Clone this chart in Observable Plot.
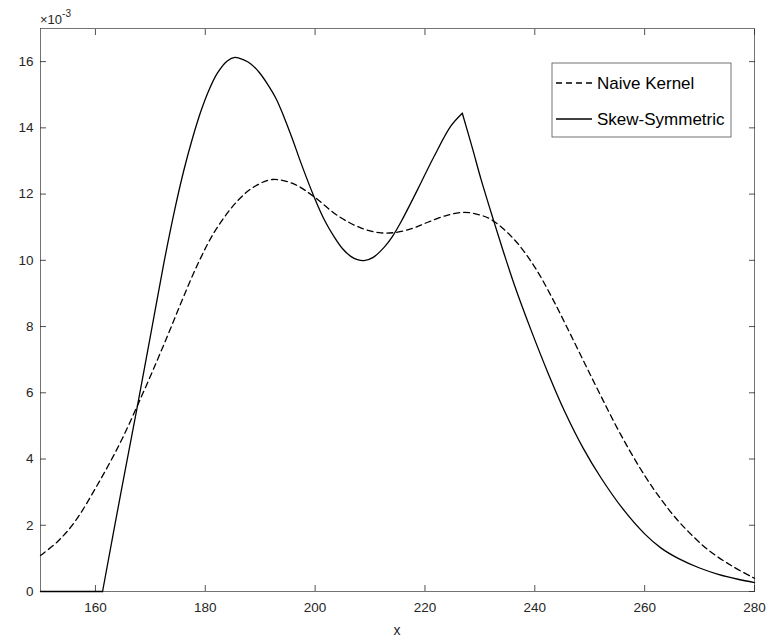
<!DOCTYPE html>
<html>
<head>
<meta charset="utf-8">
<script src="https://cdn.jsdelivr.net/npm/d3@7"></script>
<script src="https://cdn.jsdelivr.net/npm/@observablehq/plot@0.6"></script>
<style>
  html, body { margin: 0; padding: 0; background: #fff; }
  #chart { position: relative; width: 767px; height: 641px; }
</style>
</head>
<body>
<div id="chart"></div>
<script>
// ---- data (density ×10^-3) ----
const seriesNames = ["Naive Kernel", "Skew-Symmetric"];

const naiveX = [150, 153, 156.1, 160.3, 164.6, 168.2, 171.3, 173.7, 176.1, 178.9, 181.9, 185.9, 188.9, 192.2, 196.2, 199.8, 204.1, 208.3, 212, 215, 218, 220.5, 224, 227.2, 230.2, 232.35, 236.3, 239.9, 242.98, 246, 249.05, 252.1, 255.7, 260, 263, 265.5, 268, 271.6, 276, 280];
const naiveY = [1.09, 1.49, 2.07, 3.2, 4.52, 5.82, 7.0, 7.95, 8.92, 9.98, 10.92, 11.8, 12.22, 12.44, 12.3, 11.92, 11.35, 10.98, 10.83, 10.85, 10.98, 11.15, 11.36, 11.45, 11.36, 11.2, 10.62, 9.82, 8.92, 7.93, 6.9, 5.88, 4.72, 3.5, 2.78, 2.25, 1.8, 1.25, 0.76, 0.4];

const skewX = [150, 161.3, 164.6, 167.6, 170.05, 172.5, 174.6, 176.1, 177.7, 179.2, 180.7, 182.2, 184, 185.4, 187, 188.3, 189.8, 191.3, 192.9, 194.4, 195.9, 197.4, 199.8, 201.6, 203.5, 205, 206.5, 207.7, 208.9, 210.5, 212.6, 214, 215.6, 218.7, 221.7, 224.7, 226.8, 228.7, 230.2, 232.5, 234.4, 236.3, 239.3, 242.4, 245.4, 248.8, 252.1, 256, 260, 263, 266.1, 270, 273.4, 277, 280];
const skewY = [0, 0, 2.95, 5.56, 7.75, 9.95, 11.65, 12.72, 13.7, 14.5, 15.15, 15.65, 16.02, 16.13, 16.05, 15.93, 15.68, 15.33, 14.88, 14.3, 13.65, 12.95, 11.92, 11.25, 10.7, 10.35, 10.12, 10.02, 9.99, 10.08, 10.4, 10.7, 11.15, 12.15, 13.15, 14.05, 14.44, 13.35, 12.45, 11.2, 10.2, 9.25, 7.9, 6.6, 5.45, 4.33, 3.42, 2.5, 1.74, 1.31, 1.0, 0.71, 0.52, 0.37, 0.27];
// x positions where the skew-symmetric estimate has a corner
const skewCorners = [161.3, 226.8];

const xTicks = [160, 180, 200, 220, 240, 260, 280];
const yTicks = [0, 2, 4, 6, 8, 10, 12, 14, 16];
const xDomain = [150, 280];
const yDomain = [0, 17];
const exponentLabel = "-3";
const xLabel = "x";

const naive = naiveX.map((x, i) => ({x, y: naiveY[i]}));
// split the solid curve into smooth pieces at its corners (corner points shared)
const skew = [];
skewX.forEach((x, i) => {
  const seg = skewCorners.filter(c => x > c).length;
  skew.push({x, y: skewY[i], seg});
  if (skewCorners.includes(x)) skew.push({x, y: skewY[i], seg: seg + 1});
});

const axisColor = "#262626";
const font = "'Liberation Sans', Arial, Helvetica, sans-serif";

const plot = Plot.plot({
  width: 767,
  height: 641,
  marginLeft: 40,
  marginRight: 13,
  marginTop: 28,
  marginBottom: 50,
  style: {fontFamily: font, fontSize: "13.5px", color: axisColor, background: "#fff"},
  x: {domain: xDomain, ticks: xTicks, label: null},
  y: {domain: yDomain, ticks: yTicks, label: null},
  marks: [
    Plot.frame({stroke: axisColor, strokeWidth: 0.8, strokeOpacity: 0.8}),
    Plot.axisX(xTicks, {anchor: "bottom", tickSize: -6, tickPadding: 17, tickFormat: d => String(d), stroke: axisColor, strokeOpacity: 0.8, fill: axisColor}),
    Plot.axisX(xTicks, {anchor: "top", tickSize: -6, tickFormat: () => "", stroke: axisColor, strokeOpacity: 0.8}),
    Plot.axisY(yTicks, {anchor: "left", tickSize: -6, tickPadding: 13, tickFormat: d => String(d), stroke: axisColor, strokeOpacity: 0.8, fill: axisColor}),
    Plot.axisY(yTicks, {anchor: "right", tickSize: -6, tickFormat: () => "", stroke: axisColor, strokeOpacity: 0.8}),
    Plot.line(naive, {x: "x", y: "y", curve: "catmull-rom", stroke: "#000", strokeWidth: 1.3, strokeDasharray: "6,4"}),
    Plot.line(skew, {x: "x", y: "y", z: "seg", curve: "catmull-rom", stroke: "#000", strokeWidth: 1.3})
  ]
});

document.getElementById("chart").appendChild(plot);

const svg = d3.select(plot);
// x label
svg.append("text")
  .attr("x", (40 + 754) / 2).attr("y", 635)
  .attr("text-anchor", "middle")
  .attr("font-family", font).attr("font-size", 14).attr("fill", axisColor)
  .text(xLabel);

// ×10^-3 exponent label
const ex = svg.append("text")
  .attr("x", 40).attr("y", 24)
  .attr("text-anchor", "start")
  .attr("font-family", font).attr("font-size", 13).attr("fill", axisColor);
ex.append("tspan").text("\u00d710");
ex.append("tspan").attr("dy", -7).attr("font-size", 10).text(exponentLabel);

// legend
const lg = svg.append("g").attr("font-family", font).attr("font-size", 17).attr("fill", "#000").attr("text-anchor", "start");
lg.append("rect").attr("x", 552).attr("y", 63).attr("width", 179).attr("height", 74)
  .attr("fill", "#fff").attr("stroke", axisColor).attr("stroke-opacity", 0.8).attr("stroke-width", 0.8);
const rows = [{dash: "6,4", y: 83}, {dash: null, y: 119}];
rows.forEach((r, i) => {
  lg.append("line").attr("x1", 556).attr("x2", 592).attr("y1", r.y).attr("y2", r.y)
    .attr("stroke", "#000").attr("stroke-width", 1.3).attr("stroke-dasharray", r.dash);
  lg.append("text").attr("x", 597).attr("y", r.y + 6).attr("text-anchor", "start").text(seriesNames[i]);
});
</script>
</body>
</html>
